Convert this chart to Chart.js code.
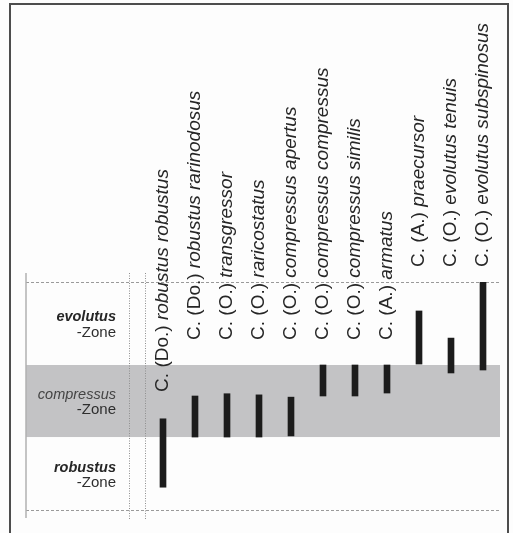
<!DOCTYPE html>
<html>
<head>
<meta charset="utf-8">
<script src="https://cdn.jsdelivr.net/npm/chart.js@4/dist/chart.umd.min.js"></script>
<style>
  html, body { margin: 0; padding: 0; background: #ffffff; }
  canvas { display: block; }
</style>
</head>
<body>
<canvas id="ranges" width="513" height="533"></canvas>
<script>
// Taxa, in stratigraphic order of first appearance
const species = [
  'C. (Do.) robustus robustus',
  'C. (Do.) robustus rarinodosus',
  'C. (O.) transgressor',
  'C. (O.) raricostatus',
  'C. (O.) compressus apertus',
  'C. (O.) compressus compressus',
  'C. (O.) compressus similis',
  'C. (A.) armatus',
  'C. (A.) praecursor',
  'C. (O.) evolutus tenuis',
  'C. (O.) evolutus subspinosus'
];

// Range base and top of each taxon, on a 0–100 section scale
const rangeBase = [10, 32, 32, 32, 32.5, 50, 50, 51.3, 64, 60.1, 61.4];
const rangeTop  = [40, 50, 51, 50.5, 49.5, 63.6, 63.6, 63.6, 87.3, 75.4, 100];

// Biozones, bottom to top, and their boundaries on the same scale
const zoneNames  = ['robustus', 'compressus', 'evolutus'];
const zoneBounds = [0, 32, 63.6, 100];

const ranges = species.map((_, i) => [rangeBase[i], rangeTop[i]]);

const FONT = '"Liberation Sans", Arial, Helvetica, sans-serif';

const zonationPlugin = {
  id: 'zonation',
  beforeDraw(chart) {
    const { ctx, chartArea, scales } = chart;
    const y = scales.y;
    const left = 26, right = chartArea.right + 1;
    ctx.save();
    ctx.fillStyle = '#fdfdfd';
    ctx.fillRect(0, 0, chart.width, chart.height);

    // outer frame
    ctx.strokeStyle = '#4d4d4d';
    ctx.lineWidth = 2;
    ctx.strokeRect(10, 4, 498, 560);

    // shaded middle zone
    ctx.fillStyle = '#c3c3c5';
    const zTop = y.getPixelForValue(zoneBounds[2]);
    const zBot = y.getPixelForValue(zoneBounds[1]);
    ctx.fillRect(left, zTop, right - left, zBot - zTop);

    // dashed top and base of the section
    ctx.strokeStyle = '#9a9a9a';
    ctx.lineWidth = 1;
    ctx.setLineDash([3, 2]);
    [zoneBounds[0], zoneBounds[3]].forEach(v => {
      const py = Math.round(y.getPixelForValue(v)) + 0.5;
      ctx.beginPath();
      ctx.moveTo(left, py);
      ctx.lineTo(right, py);
      ctx.stroke();
    });

    // column separators
    ctx.setLineDash([1, 1.5]);
    ctx.strokeStyle = '#8f8f8f';
    [129.5, 145.5].forEach(px => {
      ctx.beginPath();
      ctx.moveTo(px, 273);
      ctx.lineTo(px, 520);
      ctx.stroke();
    });
    ctx.setLineDash([]);
    ctx.strokeStyle = '#b0b0b0';
    ctx.lineWidth = 1.5;
    ctx.beginPath();
    ctx.moveTo(26, 273);
    ctx.lineTo(26, 518);
    ctx.stroke();

    // zone names
    ctx.textAlign = 'right';
    ctx.textBaseline = 'middle';
    zoneNames.forEach((name, i) => {
      const cy = (y.getPixelForValue(zoneBounds[i]) + y.getPixelForValue(zoneBounds[i + 1])) / 2 + 1.5;
      ctx.fillStyle = i === 1 ? '#444444' : '#262626';
      ctx.font = (i === 1 ? 'italic ' : 'italic bold ') + '14.5px ' + FONT;
      ctx.fillText(name, 116, cy - 7.5);
      ctx.fillStyle = '#2e2e2e';
      ctx.font = '15px ' + FONT;
      ctx.fillText('-Zone', 116, cy + 7.5);
    });
    ctx.restore();
  },
  afterDatasetsDraw(chart, args, opts) {
    const { ctx, scales } = chart;
    ctx.save();
    ctx.fillStyle = '#262626';
    ctx.textBaseline = 'middle';
    ctx.textAlign = 'left';
    species.forEach((name, i) => {
      const m = name.match(/^(\S+ \([^)]*\)) (.*)$/);
      const px = scales.x.getPixelForValue(i);
      const py = scales.y.getPixelForValue(opts.labelFrom[i]);
      ctx.save();
      ctx.translate(px, py);
      ctx.rotate(-Math.PI / 2);
      ctx.font = '19px ' + FONT;
      const prefix = m[1] + ' ';
      ctx.fillText(prefix, 0, 0);
      const w = ctx.measureText(prefix).width;
      ctx.font = 'italic 19px ' + FONT;
      ctx.fillText(m[2], w, 0);
      ctx.restore();
    });
    ctx.restore();
  }
};

new Chart(document.getElementById('ranges'), {
  type: 'bar',
  data: {
    labels: species,
    datasets: [{
      data: ranges,
      backgroundColor: '#1c1c1c',
      borderWidth: 0,
      barThickness: 6
    }]
  },
  options: {
    responsive: false,
    animation: false,
    layout: { padding: { left: 147, right: 14, top: 282, bottom: 23 } },
    scales: {
      x: { display: false, offset: true, grid: { display: false } },
      y: { display: false, min: 0, max: 100 }
    },
    plugins: {
      legend: { display: false },
      tooltip: { enabled: false },
      zonation: {
        labelFrom: [51.8, 74.6, 74.6, 74.6, 74.6, 74.6, 74.6, 74.6, 106.6, 106.6, 106.6]
      }
    }
  },
  plugins: [zonationPlugin]
});
</script>
</body>
</html>
